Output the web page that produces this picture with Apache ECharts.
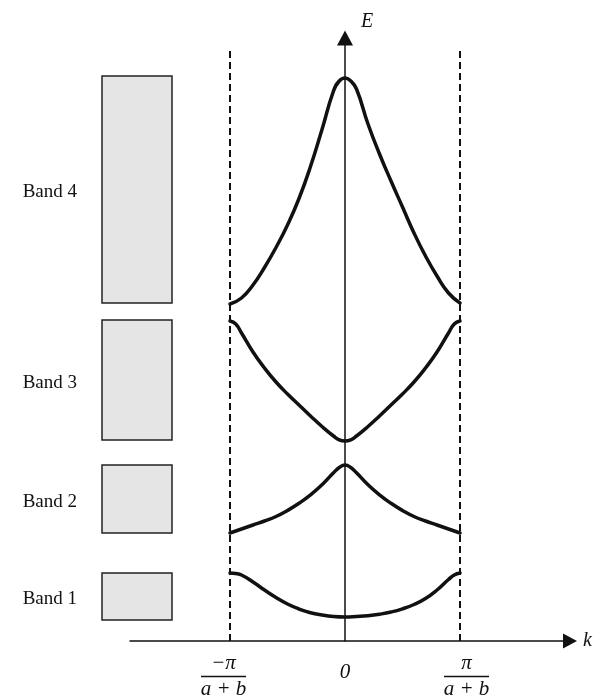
<!DOCTYPE html>
<html>
<head>
<meta charset="utf-8">
<title>Energy bands</title>
<script src="https://cdn.jsdelivr.net/npm/echarts@6/dist/echarts.min.js"></script>
<style>
  html, body { margin: 0; padding: 0; background: #fff; }
  #chart { width: 595px; height: 700px; }
</style>
</head>
<body>
<div id="chart"></div>
<script>
// k is in units of pi/(a+b), E in arbitrary units
var band1 = [[-1, 0.68], [-0.95, 0.675], [-0.9, 0.66], [-0.8, 0.59], [-0.7, 0.51], [-0.6, 0.435], [-0.5, 0.37], [-0.4, 0.32], [-0.3, 0.283], [-0.2, 0.26], [-0.1, 0.245], [0, 0.24],
             [0.1, 0.245], [0.2, 0.253], [0.3, 0.268], [0.4, 0.29], [0.5, 0.322], [0.6, 0.365], [0.7, 0.425], [0.8, 0.51], [0.9, 0.615], [0.95, 0.66], [1, 0.68]];
var band2 = [[-1, 1.08], [-0.9, 1.12], [-0.8, 1.16], [-0.7, 1.20], [-0.6, 1.245], [-0.5, 1.305], [-0.4, 1.377], [-0.3, 1.462], [-0.2, 1.562], [-0.1, 1.682], [-0.05, 1.735], [0, 1.76],
             [0.05, 1.735], [0.1, 1.682], [0.2, 1.562], [0.3, 1.462], [0.4, 1.377], [0.5, 1.305], [0.6, 1.245], [0.7, 1.20], [0.8, 1.16], [0.9, 1.12], [1, 1.08]];
var band3 = [[-1, 3.20], [-0.95, 3.17], [-0.9, 3.08], [-0.8, 2.89], [-0.7, 2.73], [-0.6, 2.59], [-0.5, 2.47], [-0.4, 2.36], [-0.3, 2.25], [-0.2, 2.145], [-0.1, 2.05], [-0.05, 2.012], [0, 2.00],
             [0.05, 2.012], [0.1, 2.05], [0.2, 2.145], [0.3, 2.25], [0.4, 2.36], [0.5, 2.47], [0.6, 2.59], [0.7, 2.73], [0.8, 2.89], [0.9, 3.08], [0.95, 3.17], [1, 3.20]];
var band4 = [[-1, 3.37], [-0.9, 3.43], [-0.8, 3.56], [-0.7, 3.735], [-0.6, 3.935], [-0.5, 4.16], [-0.4, 4.425], [-0.3, 4.745], [-0.2, 5.115], [-0.1, 5.5], [-0.05, 5.6], [0, 5.63],
             [0.05, 5.6], [0.1, 5.52], [0.2, 5.17], [0.3, 4.87], [0.4, 4.60], [0.5, 4.34], [0.6, 4.08], [0.7, 3.85], [0.8, 3.65], [0.9, 3.48], [1, 3.38]];

var zoneEdges = [-1, 1];
var zoneTop = 5.91;

var bandNames = ['Band 1', 'Band 2', 'Band 3', 'Band 4'];
var bandLow = [0.21, 1.08, 2.01, 3.38];
var bandHigh = [0.68, 1.76, 3.21, 5.65];

var kTicks = [-1, 0, 1];

var serif = '"Liberation Serif", "DejaVu Serif", serif';
var ink = '#111';
var eMax = 6.03;

var chart = echarts.init(document.getElementById('chart'));

function curve(data) {
    return {
        type: 'line',
        xAxisIndex: 0, yAxisIndex: 0,
        data: data,
        smooth: 0.5,
        showSymbol: false,
        silent: true,
        lineStyle: { color: ink, width: 3.5, cap: 'round', join: 'round' }
    };
}

function edgeLine(k) {
    return {
        type: 'line',
        xAxisIndex: 0, yAxisIndex: 0,
        data: [[k, 0], [k, zoneTop]],
        showSymbol: false,
        silent: true,
        lineStyle: { color: ink, width: 2, type: [7, 4] }
    };
}

var option = {
    animation: false,
    backgroundColor: '#fff',
    grid: [
        { left: 130, right: 25, top: 38, bottom: 59 },
        { left: 102, width: 70, top: 38, bottom: 59 }
    ],
    xAxis: [
        {
            type: 'value', gridIndex: 0,
            min: (130 - 345) / 115, max: (570 - 345) / 115,
            name: 'k', nameLocation: 'end', nameGap: 13,
            nameTextStyle: { fontFamily: serif, fontStyle: 'italic', fontSize: 20, color: ink },
            axisLine: { onZero: true, symbol: ['none', 'triangle'], symbolSize: [15, 14], lineStyle: { color: ink, width: 1.5 } },
            axisTick: { show: false },
            splitLine: { show: false },
            axisLabel: {
                customValues: kTicks,
                margin: 12,
                color: ink,
                formatter: function (v) {
                    if (v === 0) return '{z|0}';
                    if (v < 0) return '{n|−π}{s| }\n{bar| }{s| }\n{d|a + b}{s| }';
                    return '{s| }{n|π}\n{s| }{bar| }\n{s| }{d|a + b}';
                },
                rich: {
                    z: { fontFamily: serif, fontStyle: 'italic', fontSize: 21, lineHeight: 38, color: ink },
                    n: { fontFamily: serif, fontStyle: 'italic', fontSize: 21, lineHeight: 21, color: ink },
                    d: { fontFamily: serif, fontStyle: 'italic', fontSize: 21, lineHeight: 21, color: ink },
                    bar: { width: 45, height: 1.5, lineHeight: 5, fontSize: 1, backgroundColor: ink },
                    s: { width: 13, fontSize: 1 }
                }
            }
        },
        { type: 'value', gridIndex: 1, min: 0, max: 1, show: false }
    ],
    yAxis: [
        {
            type: 'value', gridIndex: 0,
            min: 0, max: eMax,
            name: 'E', nameLocation: 'end', nameGap: 6,
            nameTextStyle: { fontFamily: serif, fontStyle: 'italic', fontSize: 20, color: ink, align: 'left', padding: [0, 0, 0, 16] },
            axisLine: { onZero: true, symbol: ['none', 'triangle'], symbolSize: [16, 15], lineStyle: { color: ink, width: 1.5 } },
            axisTick: { show: false },
            axisLabel: { show: false },
            splitLine: { show: false }
        },
        { type: 'value', gridIndex: 1, min: 0, max: eMax, show: false }
    ],
    series: [
        edgeLine(zoneEdges[0]),
        edgeLine(zoneEdges[1]),
        curve(band1),
        curve(band2),
        curve(band3),
        curve(band4),
        {
            type: 'custom',
            xAxisIndex: 1, yAxisIndex: 1,
            silent: true,
            data: bandNames.map(function (n, i) { return [0, bandLow[i], bandHigh[i]]; }),
            renderItem: function (params, api) {
                var tl = api.coord([0, api.value(2)]);
                var br = api.coord([1, api.value(1)]);
                return {
                    type: 'group',
                    children: [
                        {
                            type: 'rect',
                            shape: { x: tl[0], y: tl[1], width: br[0] - tl[0], height: br[1] - tl[1] },
                            style: { fill: '#e5e5e5', stroke: '#222', lineWidth: 1.5 }
                        },
                        {
                            type: 'text',
                            style: {
                                text: bandNames[params.dataIndex],
                                x: tl[0] - 25, y: (tl[1] + br[1]) / 2 + 3,
                                align: 'right', verticalAlign: 'middle',
                                fontFamily: serif, fontSize: 19, fill: ink
                            }
                        }
                    ]
                };
            }
        }
    ]
};

chart.setOption(option);
</script>
</body>
</html>
